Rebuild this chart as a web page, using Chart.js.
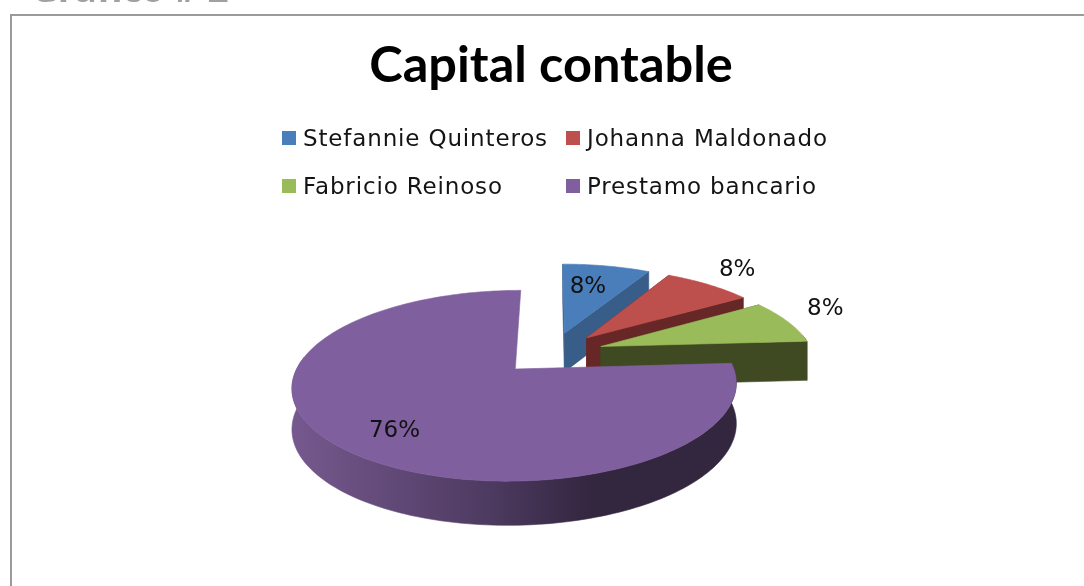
<!DOCTYPE html>
<html><head><meta charset="utf-8">
<style>
html,body{margin:0;padding:0;background:#fff;overflow:hidden}
#wrap{position:relative;width:1084px;height:586px;overflow:hidden;filter:blur(0.5px)}
#frame{position:absolute;left:10px;top:14px;width:1200px;height:800px;border:2px solid #9a9a9a}
canvas{position:absolute;left:0;top:0}
</style>
<script src="https://cdn.jsdelivr.net/npm/chart.js@4"></script>
</head><body>
<div id="wrap"><div id="frame"></div><div style="position:absolute;left:0;top:0;width:1084px;height:586px"><canvas id="c" width="1084" height="586"></canvas></div></div>
<script>
const categories = ['Stefannie Quinteros','Johanna Maldonado','Fabricio Reinoso','Prestamo bancario'];
const values = [8,8,8,76];
const percentLabels = ['8%','8%','8%','76%'];
const topColors = ['#4a7ebb','#bd4f4c','#9abb59','#7f5f9e'];
const wallColors = ['#375d88','#662726','#3f4a22','#33263f'];
const titleText = 'Capital contable';
const captionText = 'Gráfico # 2';

const G = {cx:552, cy:353, R:212, k:0.41, p:0.17, D:39.5};
const labelRadius = [0.57,1.28,1.22,0.77];
const labelShift = [[-2,-5],[-1,-2],[-1,-7],[11,4]];

function project(wx,wy,z){
  const s = 1/(1-G.p*wy/G.R);
  return [G.cx+wx*s, G.cy+G.k*wy*s+z*G.D*Math.sqrt(s)];
}
function polar(el,a,r){
  const off = el.options.offset||0, mid=(el.startAngle+el.endAngle)/2;
  return [off*Math.cos(mid)+r*Math.cos(a), off*Math.sin(mid)+r*Math.sin(a)];
}
function poly(ctx,pts,fill){
  ctx.beginPath();
  pts.forEach((p,i)=> i?ctx.lineTo(p[0],p[1]):ctx.moveTo(p[0],p[1]));
  ctx.closePath();
  ctx.fillStyle=fill; ctx.strokeStyle=fill; ctx.lineWidth=0.6;
  ctx.fill(); ctx.stroke();
}
class Pie3D extends Chart.PieController{
  draw(){
    const ctx=this.chart.ctx, els=this._cachedMeta.data;
    els.forEach((el,i)=>{
      const a0=el.startAngle,a1=el.endAngle,n=Math.max(6,Math.ceil((a1-a0)*40));
      const angles=[];for(let j=0;j<=n;j++)angles.push(a0+(a1-a0)*j/n);
      const at=(a,z)=>{const w=polar(el,a,G.R);return project(w[0],w[1],z);};
      const tip=z=>{const w=polar(el,0,0);return project(w[0],w[1],z);};
      // radial walls (the large slice shows none of its own)
      if(i<3){
        poly(ctx,[tip(0),at(a0,0),at(a0,1),tip(1)],wallColors[i]);
        poly(ctx,[tip(0),at(a1,0),at(a1,1),tip(1)],wallColors[i]);
      }
      // outer wall: only the part that faces the viewer
      const front=angles.filter(a=>Math.sin(a)>-0.15);
      let wall=wallColors[i];
      if(i===3){
        wall=ctx.createLinearGradient(291,0,735,0);
        wall.addColorStop(0,'#76598f');
        wall.addColorStop(0.45,'#4d3a60');
        wall.addColorStop(0.68,'#33263f');
        wall.addColorStop(1,'#33263f');
      }
      if(front.length>1) poly(ctx,front.map(a=>at(a,0)).concat(front.slice().reverse().map(a=>at(a,1))),wall);
      // top face
      poly(ctx,[tip(0)].concat(angles.map(a=>at(a,0))),topColors[i]);
    });
  }
}
Pie3D.id='pie3d';
Chart.register(Pie3D);

const decor={
  id:'decor',
  afterDraw(chart){
    const ctx=chart.ctx, els=chart.getDatasetMeta(0).data;
    ctx.save();
    // caption cut off at the top of the picture
    ctx.font='bold 37px "Open Sans"';ctx.fillStyle='#a0a0a0';ctx.textAlign='left';ctx.textBaseline='alphabetic';
    ctx.fillText(captionText,31,2);
    // legend
    const lx=[282,566],ly=[131,179];
    ctx.font='23px "DejaVu Sans"';
    ctx.letterSpacing='0.85px';
    categories.forEach((c,i)=>{
      const x=lx[i%2],y=ly[i>>1];
      ctx.fillStyle=topColors[i];ctx.fillRect(x,y,14,14);
      ctx.fillStyle='#141414';ctx.fillText(c,x+21,y+15);
    });
    ctx.letterSpacing='0px';
    // value labels
    ctx.textAlign='center';ctx.textBaseline='middle';ctx.fillStyle='#111';
    els.forEach((el,i)=>{
      const w=polar(el,(el.startAngle+el.endAngle)/2,G.R*labelRadius[i]);
      const p=project(w[0],w[1],0);
      ctx.fillText(percentLabels[i],p[0]+labelShift[i][0],p[1]+labelShift[i][1]);
    });
    ctx.restore();
  }
};

new Chart(document.getElementById('c'),{
  type:'pie3d',
  data:{labels:categories,datasets:[{data:values,offset:52,backgroundColor:topColors,borderWidth:0}]},
  options:{
    responsive:false,animation:false,
    layout:{padding:{left:18,top:0}},
    events:[],
    plugins:{
      legend:{display:false},tooltip:{enabled:false},
      title:{display:true,text:titleText,color:'#000',font:{family:'Lato',size:50.5,weight:'bold'},padding:{top:35,bottom:10}}
    }
  },
  plugins:[decor]
});
</script>
</body></html>
